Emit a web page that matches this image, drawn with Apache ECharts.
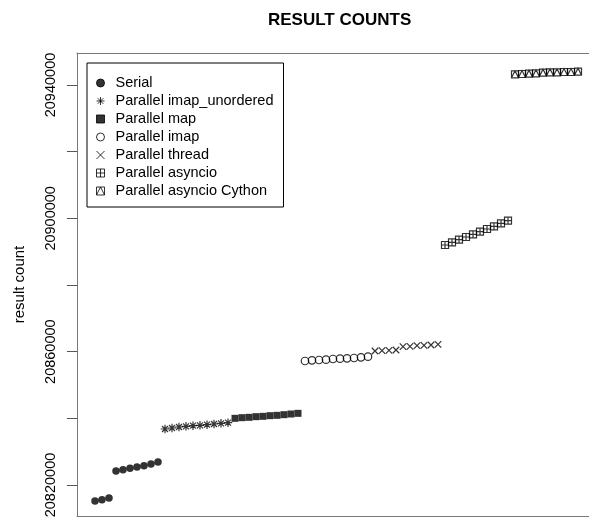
<!DOCTYPE html>
<html>
<head>
<meta charset="utf-8">
<script src="https://cdn.jsdelivr.net/npm/echarts@6/dist/echarts.min.js"></script>
<style>
html,body{margin:0;padding:0;background:#fff;}
#chart{width:589px;height:517px;}
</style>
</head>
<body>
<div id="chart"></div>
<script>
// ---- data ----
var seriesNames = ['Serial', 'Parallel imap_unordered', 'Parallel map', 'Parallel imap',
  'Parallel thread', 'Parallel asyncio', 'Parallel asyncio Cython'];
var serial = [20815200, 20815600, 20816100, 20824200, 20824600, 20825000, 20825400, 20825800, 20826300, 20826900];
var imapUnordered = [20836800, 20837100, 20837400, 20837600, 20837800, 20837900, 20838100, 20838300, 20838500, 20838700];
var parMap = [20840000, 20840200, 20840300, 20840500, 20840600, 20840800, 20840900, 20841100, 20841300, 20841500];
var imap = [20857200, 20857400, 20857500, 20857600, 20857800, 20857900, 20858000, 20858100, 20858300, 20858500];
var thread = [20860200, 20860300, 20860400, 20860500, 20861500, 20861600, 20861800, 20861900, 20862000, 20862200];
var asyncio = [20892000, 20892800, 20893600, 20894400, 20895200, 20896000, 20896800, 20897600, 20898500, 20899300];
var asyncioCython = [20943200, 20943300, 20943400, 20943500, 20943700, 20943800, 20943800, 20943900, 20943900, 20944000];
var yTicks = [20820000, 20840000, 20860000, 20880000, 20900000, 20920000, 20940000];
var yLabels = [20820000, 20860000, 20900000, 20940000];

var allSeries = [serial, imapUnordered, parMap, imap, thread, asyncio, asyncioCython];

// ---- styles ----
var FONT = '"Liberation Sans", Arial, Helvetica, sans-serif';
var symbols = [
  {symbol: 'circle', size: 7.5, filled: true},
  {symbol: 'path://M5,0 L5,10 M0,5 L10,5 M1.5,1.5 L8.5,8.5 M8.5,1.5 L1.5,8.5', size: 8.5, filled: false},
  {symbol: 'path://M0,0 L10,0 L10,10 L0,10 Z', size: 7, filled: true},
  {symbol: 'circle', size: 7.5, filled: false},
  {symbol: 'path://M0,0 L10,10 M10,0 L0,10', size: 6.5, filled: false},
  {symbol: 'path://M0,0 L10,0 L10,10 L0,10 Z M5,0 L5,10 M0,5 L10,5', size: 7, filled: false},
  {symbol: 'path://M0,0 L10,0 L10,10 L0,10 Z M0,10 L5,0 L10,10', size: 7, filled: false}
];

var idx = 0;
var series = allSeries.map(function (vals, s) {
  var data = vals.map(function (v) { idx += 1; return [idx, v]; });
  var sym = symbols[s];
  return {
    name: seriesNames[s],
    type: 'scatter',
    data: data,
    symbol: sym.symbol,
    symbolSize: sym.size,
    itemStyle: sym.filled
      ? {color: '#000', borderColor: '#000', borderWidth: 0}
      : {color: 'rgba(0,0,0,0)', borderColor: '#000', borderWidth: 1.2},
    emphasis: {disabled: true}
  };
});

var boxLine = {show: true, onZero: false, lineStyle: {color: '#777', width: 1}};
var chart = echarts.init(document.getElementById('chart'), null, {renderer: 'canvas'});
chart.setOption({
  animation: false,
  backgroundColor: '#fff',
  title: {
    text: 'RESULT COUNTS',
    left: 263, top: 7,
    textStyle: {fontFamily: FONT, fontSize: 17, fontWeight: 'bold', color: '#000'}
  },
  legend: {
    orient: 'vertical',
    left: 87, top: 63,
    padding: [11, 10, 7, 9],
    itemGap: 0,
    itemWidth: 8, itemHeight: 8,
    borderColor: '#000', borderWidth: 1,
    selectedMode: false,
    itemStyle: {borderWidth: 1},
    textStyle: {fontFamily: FONT, fontSize: 14.5, color: '#000', lineHeight: 18, padding: [0, 0, 0, 6]},
    data: seriesNames
  },
  grid: {
    left: 77, top: 53, right: 0, bottom: 1,
    show: false,
    outerBoundsMode: 'none',
    containLabel: false
  },
  xAxis: [{
    type: 'value', min: -1.57, max: 71.57, position: 'bottom',
    axisLine: boxLine, axisTick: {show: false}, axisLabel: {show: false}, splitLine: {show: false}
  }, {
    type: 'value', min: -1.57, max: 71.57, position: 'top',
    axisLine: boxLine, axisTick: {show: false}, axisLabel: {show: false}, splitLine: {show: false}
  }],
  yAxis: {
    type: 'value', min: 20810700, max: 20949600,
    name: 'result count', nameLocation: 'middle', nameRotate: 90, nameGap: 50,
    nameTextStyle: {fontFamily: FONT, fontSize: 15, color: '#000'},
    axisLine: boxLine,
    axisTick: {show: true, customValues: yTicks, length: 10, lineStyle: {color: '#555', width: 1}},
    axisLabel: {show: true, customValues: yLabels, rotate: 90, margin: 19,
      fontFamily: FONT, fontSize: 14.5, color: '#000',
      formatter: function (v) { return String(v); }},
    splitLine: {show: false}
  },
  series: series
});
</script>
</body>
</html>
